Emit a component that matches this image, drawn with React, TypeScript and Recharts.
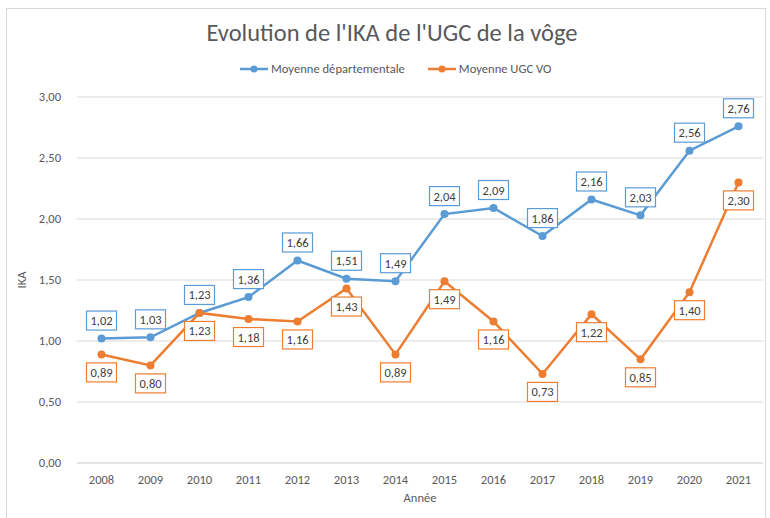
import { LineChart, Line, XAxis, YAxis, CartesianGrid, LabelList, Label } from 'recharts'

const years = ['2008', '2009', '2010', '2011', '2012', '2013', '2014', '2015', '2016', '2017', '2018', '2019', '2020', '2021']
const moyenneDep = [1.02, 1.03, 1.23, 1.36, 1.66, 1.51, 1.49, 2.04, 2.09, 1.86, 2.16, 2.03, 2.56, 2.76]
const moyenneUgc = [0.89, 0.8, 1.23, 1.18, 1.16, 1.43, 0.89, 1.49, 1.16, 0.73, 1.22, 0.85, 1.4, 2.3]
const yTicks = [0, 0.5, 1, 1.5, 2, 2.5, 3]

const BLUE = '#5B9BD5'
const ORANGE = '#ED7D31'
const FONT = 'Carlito, Calibri, Lato, sans-serif'

const data = years.map((y, i) => ({ year: y, dep: moyenneDep[i], ugc: moyenneUgc[i] }))

const fmt = (v: number) => v.toFixed(2).replace('.', ',')

function boxLabel(color: string, dy: number) {
  return (props: any) => {
    const { x, y, value } = props
    const w = 30
    const h = 19
    const cy = y + dy
    return (
      <g>
        <rect x={x - w / 2} y={cy - h / 2} width={w} height={h} fill="#fff" stroke={color} strokeWidth={1.2} />
        <text x={x} y={cy + 4.5} textAnchor="middle" fontSize={12.5} fill="#404040" fontFamily={FONT}>
          {fmt(value)}
        </text>
      </g>
    )
  }
}

function LegendItem({ color, text }: { color: string; text: string }) {
  return (
    <div style={{ display: 'flex', alignItems: 'center', gap: 2 }}>
      <svg width={30} height={10}>
        <line x1={1} y1={5} x2={29} y2={5} stroke={color} strokeWidth={2.5} />
        <circle cx={15} cy={5} r={3.5} fill={color} />
      </svg>
      <span>{text}</span>
    </div>
  )
}

export default function App() {
  return (
    <div style={{ position: 'absolute', left: 0, top: 0, width: 770, height: 518, background: '#fff', fontFamily: FONT, overflow: 'hidden' }}>
      {/* chart frame */}
      <div style={{ position: 'absolute', left: 6, top: 8, width: 758, height: 530, border: '1px solid #d9d9d9' }} />

      {/* title */}
      <div style={{ position: 'absolute', left: 0, width: 784, top: 18, textAlign: 'center', fontSize: 24.5, color: '#595959' }}>
        Evolution de l'IKA de l'UGC de la vôge
      </div>

      {/* legend */}
      <div style={{ position: 'absolute', left: 239, top: 61, display: 'flex', gap: 22, fontSize: 12.6, color: '#595959' }}>
        <LegendItem color={BLUE} text="Moyenne départementale" />
        <LegendItem color={ORANGE} text="Moyenne UGC VO" />
      </div>

      <div style={{ position: 'absolute', left: 0, top: 0 }}>
        <LineChart width={770} height={518} data={data} margin={{ top: 97, right: 7, bottom: 25, left: 17 }}>
          <CartesianGrid vertical={false} stroke="#d9d9d9" />
          <XAxis
            dataKey="year"
            padding={{ left: 24.5, right: 24.5 }}
            axisLine={{ stroke: '#d9d9d9' }}
            tickLine={false}
            height={30}
            tick={{ fontSize: 12.5, fill: '#595959', fontFamily: FONT }}
            tickMargin={6}
          >
            <Label value="Année" position="insideBottom" offset={-9} style={{ fontSize: 12.5, fill: '#595959', fontFamily: FONT }} />
          </XAxis>
          <YAxis
            domain={[0, 3]}
            ticks={yTicks}
            tickFormatter={fmt}
            axisLine={false}
            tickLine={false}
            width={60}
            tick={{ fontSize: 12.5, fill: '#595959', fontFamily: FONT }}
            tickMargin={10}
          >
            <Label value="IKA" angle={-90} position="insideLeft" offset={5} style={{ fontSize: 12.5, fill: '#595959', fontFamily: FONT, textAnchor: 'middle' }} />
          </YAxis>
          <Line
            dataKey="dep"
            stroke={BLUE}
            strokeWidth={2.5}
            dot={{ r: 4, fill: BLUE, stroke: BLUE, strokeWidth: 0 }}
            isAnimationActive={false}
          >
            <LabelList dataKey="dep" content={boxLabel(BLUE, -18)} />
          </Line>
          <Line
            dataKey="ugc"
            stroke={ORANGE}
            strokeWidth={2.5}
            dot={{ r: 4, fill: ORANGE, stroke: ORANGE, strokeWidth: 0 }}
            isAnimationActive={false}
          >
            <LabelList dataKey="ugc" content={boxLabel(ORANGE, 18)} />
          </Line>
        </LineChart>
      </div>
    </div>
  )
}
